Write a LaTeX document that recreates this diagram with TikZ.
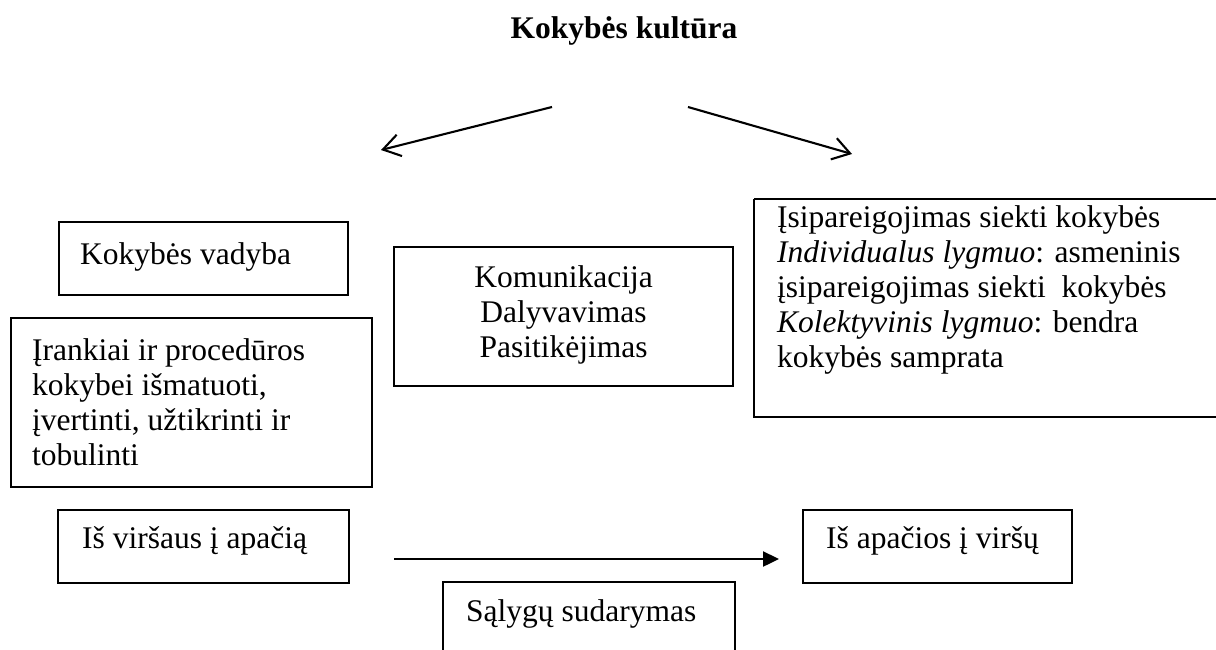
\documentclass[tikz,border=0pt]{standalone}
\usepackage{fontspec}
\setmainfont{Liberation Serif}
\usetikzlibrary{arrows.meta}
\begin{document}
\begin{tikzpicture}[x=1pt,y=-1pt,
  box/.style={draw, line width=2.1pt, inner sep=0pt},
  txt/.style={inner sep=0pt, font=\fontsize{31.5}{35}\selectfont},
  ttl/.style={inner sep=0pt, font=\fontsize{31.5}{35}\selectfont\bfseries},
  openarrow/.style={line width=2.1pt, -{Straight Barb[length=17pt,width=22pt,line width=2.1pt]}},
  solidarrow/.style={line width=2.4pt, -{Triangle[length=16pt,width=15pt]}}
]
\useasboundingbox (0,0) rectangle (1216,649);

% title
\node[ttl, anchor=base] (title) at (624,38) {Kokybės kultūra};

% top arrows
\coordinate (la0) at (552,107);
\coordinate (la1) at (381,150);
\coordinate (ra0) at (688,107);
\coordinate (ra1) at (852,154);
\draw[openarrow] (la0) -- (la1);
\draw[openarrow] (ra0) -- (ra1);

% Kokybes vadyba
\draw[box] (59,222) rectangle (348,295);
\node[txt, anchor=base west] (kv) at (80,264) {Kokybės vadyba};

% Irankiai
\draw[box] (11,318) rectangle (372,487);
\node[txt, anchor=north west, align=left] (ir) at (32,338.5) {Įrankiai ir procedūros\\kokybei išmatuoti,\\įvertinti, užtikrinti ir\\tobulinti};

% Komunikacija
\draw[box] (394,247) rectangle (733,386);
\node[txt, anchor=north, align=center] (kom) at (563.5,265.5) {Komunikacija\\Dalyvavimas\\Pasitikėjimas};

% Isipareigojimas
\draw[box] (754,199) -- (1218,199);
\draw[box] (754,199) -- (754,417) -- (1218,417);
\node[txt, anchor=north west, align=left] (isi) at (777,205.5) {Įsipareigojimas siekti kokybės\\\textit{Individualus lygmuo}: asmeninis\\įsipareigojimas siekti\ \ kokybės\\\textit{Kolektyvinis lygmuo}: bendra\\kokybės samprata};

% bottom row
\draw[box] (58,510) rectangle (349,583);
\node[txt, anchor=base west] (top2down) at (82,548) {Iš viršaus į apačią};

\draw[box] (803,510) rectangle (1072,583);
\node[txt, anchor=base west] (down2top) at (826,548) {Iš apačios į viršų};

\draw[box] (443,651) -- (443,582) -- (735,582) -- (735,651);
\node[txt, anchor=base west] (sal) at (466,621) {Sąlygų sudarymas};

\coordinate (ba0) at (394,559);
\coordinate (ba1) at (779,559);
\draw[solidarrow] (ba0) -- (ba1);
\end{tikzpicture}
\end{document}
